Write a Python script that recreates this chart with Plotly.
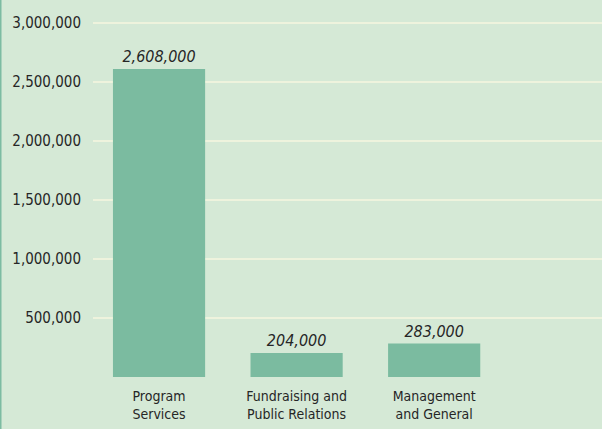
import plotly.graph_objects as go

categories = ["Program<br>Services", "Fundraising and<br>Public Relations", "Management<br>and General"]
expenses = [2608000, 204000, 283000]
value_labels = ["2,608,000", "204,000", "283,000"]
tick_values = [500000, 1000000, 1500000, 2000000, 2500000, 3000000]
tick_labels = ["500,000", "1,000,000", "1,500,000", "2,000,000", "2,500,000", "3,000,000"]

BG = "#d5e9d6"
BAR = "#7bbba0"
GRID = "#eef3dd"
TEXT = "#262626"
FONT = "DejaVu Sans Condensed, sans-serif"

fig = go.Figure(
    go.Bar(
        x=list(range(len(categories))),
        y=expenses,
        marker=dict(color=BAR, line=dict(width=0)),
        text=value_labels,
        textposition="outside",
        cliponaxis=False,
        textfont=dict(family=FONT, size=16, color=TEXT, style="italic"),
        hoverinfo="skip",
    )
)

fig.update_layout(
    width=602,
    height=429,
    margin=dict(l=93, r=0, t=0, b=52),
    paper_bgcolor=BG,
    plot_bgcolor=BG,
    bargap=0.33,
    showlegend=False,
    font=dict(family=FONT, color=TEXT),
    shapes=[
        dict(
            type="line", xref="paper", yref="paper",
            x0=-93 / 509 + 0.001, x1=-93 / 509 + 0.001, y0=-52 / 377, y1=1,
            line=dict(color="#7dbca2", width=2),
        )
    ],
)

fig.update_xaxes(
    range=[-0.48, 3.22],
    tickvals=list(range(len(categories))),
    ticktext=categories,
    tickfont=dict(family=FONT, size=14, color=TEXT),
    showgrid=False,
    zeroline=False,
    showline=False,
    ticks="",
    ticklabelstandoff=9,
)

fig.update_yaxes(
    range=[0, 3192000],
    tickvals=tick_values,
    ticktext=tick_labels,
    tickfont=dict(family=FONT, size=15, color=TEXT),
    showgrid=True,
    gridcolor=GRID,
    gridwidth=2,
    zeroline=False,
    showline=False,
    ticks="",
    ticklabelstandoff=11,
)

fig.write_html("out.html")
